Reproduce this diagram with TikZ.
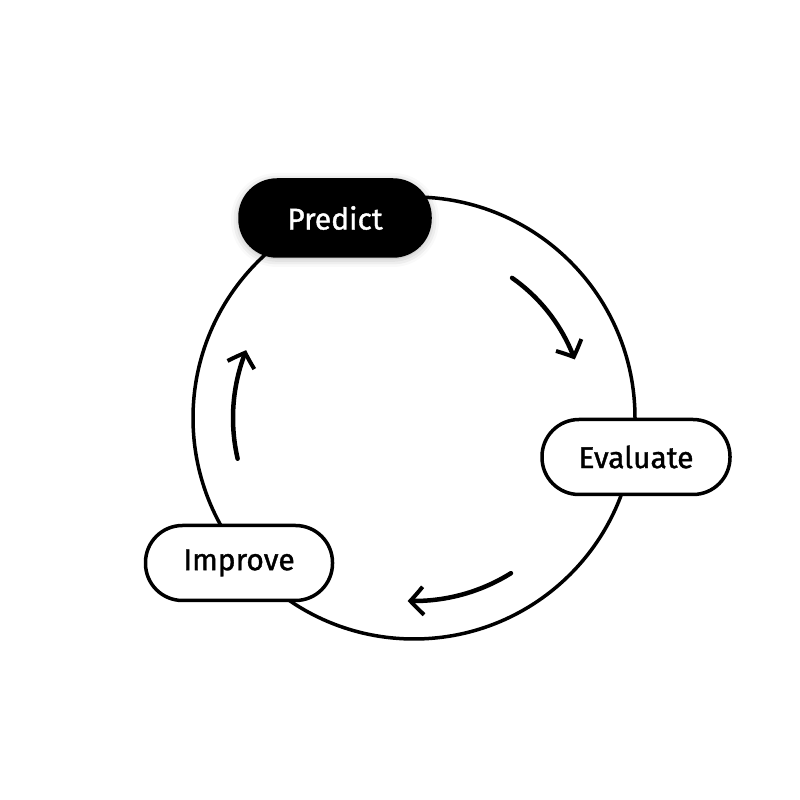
\documentclass[tikz,border=0pt]{standalone}
\usepackage{fontspec}
\setmainfont{Fira Sans}
\newfontfamily\labelfont{Fira Sans}[FakeBold=1.2]
\usetikzlibrary{arrows.meta,bending,shadows.blur}
\tikzset{
  pill/.style={draw=black, line width=3.5pt, fill=white, minimum width=187pt, minimum height=75pt, rounded corners=37pt, inner sep=0pt, font=\labelfont\fontsize{30}{34}\selectfont},
  darkpill/.style={pill, fill=black, text=white, blur shadow={shadow xshift=0pt, shadow yshift=-2pt, shadow blur radius=9pt, shadow opacity=35}},
  ring/.style={line width=3.5pt, draw=black},
  cyclearrow/.style={line width=4.5pt, line cap=round, -{Straight Barb[length=13pt,width=28pt,line width=4pt,bend]}}
}
\begin{document}
\begin{tikzpicture}[x=1pt,y=1pt]
\useasboundingbox (0,0) rectangle (800,800);
\coordinate (c) at (414,382);
\draw[ring] (c) circle[radius=221];
\node[darkpill, minimum width=190pt, minimum height=76pt] (predict) at (335,582) {Predict};
\node[pill, minimum width=188pt] (evaluate) at (636,343) {Evaluate};
\node[pill] (improve) at (239,237) {Improve};
\draw[cyclearrow] ([shift={(55:171)}]c) arc[start angle=55, end angle=20, radius=171];
\draw[cyclearrow] ([shift={(-58:183)}]c) arc[start angle=-58, end angle=-92, radius=183];
\draw[cyclearrow] ([shift={(193:181)}]c) arc[start angle=193, end angle=158, radius=181];
\end{tikzpicture}
\end{document}
